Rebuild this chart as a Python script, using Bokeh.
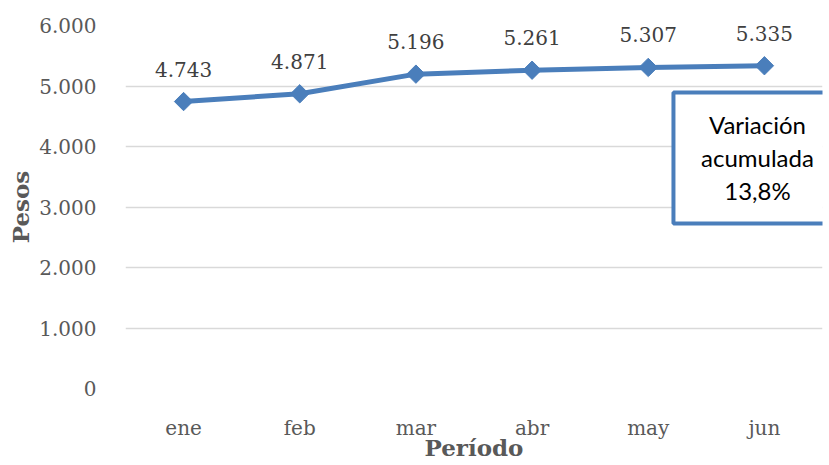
from bokeh.plotting import figure
from bokeh.models import ColumnDataSource, FactorRange, Range1d, FixedTicker, LabelSet, BoxAnnotation, Label
from bokeh.core.properties import value
from bokeh.embed import file_html
from bokeh.resources import INLINE

months = ["ene", "feb", "mar", "abr", "may", "jun"]
values = [4743, 4871, 5196, 5261, 5307, 5335]
value_labels = ["4.743", "4.871", "5.196", "5.261", "5.307", "5.335"]
y_ticks = [0, 1000, 2000, 3000, 4000, 5000, 6000]
y_tick_labels = ["0", "1.000", "2.000", "3.000", "4.000", "5.000", "6.000"]
box_lines = ["Variación", "acumulada", "13,8%"]
x_title = "Período"
y_title = "Pesos"

SERIF = "DejaVu Serif"
BLUE = "#4A7EBB"
GREY = "#595959"

src = ColumnDataSource(dict(x=months, y=values, lab=value_labels))

p = figure(width=829, height=465, output_backend="svg", toolbar_location=None,
           x_range=FactorRange(factors=months), y_range=Range1d(0, 6000),
           min_border_left=125, min_border_right=7, min_border_top=25, min_border_bottom=77)
p.outline_line_color = None
p.background_fill_color = "white"
p.border_fill_color = "white"

p.xgrid.grid_line_color = None
p.ygrid.grid_line_color = "#D9D9D9"
p.ygrid.grid_line_width = 1.5

p.yaxis.ticker = FixedTicker(ticks=y_ticks)
p.yaxis.major_label_overrides = {t: l for t, l in zip(y_ticks, y_tick_labels)}
for ax in (p.xaxis[0], p.yaxis[0]):
    ax.axis_line_color = None
    ax.major_tick_line_color = None
    ax.minor_tick_line_color = None
    ax.major_label_text_font = SERIF
    ax.major_label_text_font_size = "20px"
    ax.major_label_text_color = GREY
    ax.axis_label_text_font = SERIF
    ax.axis_label_text_font_size = "23px"
    ax.axis_label_text_font_style = "bold"
    ax.axis_label_text_color = GREY

p.xaxis.axis_label = x_title
p.yaxis.axis_label = y_title
p.xaxis.major_label_standoff = 21
p.xaxis.axis_label_standoff = -9
p.yaxis.major_label_standoff = 23
p.yaxis.axis_label_standoff = 2

p.line("x", "y", source=src, line_color=BLUE, line_width=5)
p.scatter("x", "y", source=src, marker="square", angle=0.785398, size=13,
          fill_color=BLUE, line_color=BLUE)

p.add_layout(LabelSet(x="x", y="y", text="lab", source=src, y_offset=25,
                      text_align="center", text_baseline="alphabetic",
                      text_font=value(SERIF), text_font_size=value("20px"),
                      text_color=value("#404040")))

box = BoxAnnotation(left=4.717, right=6.4, bottom=2727, top=4893,
                    fill_color="white", fill_alpha=1.0,
                    line_color=BLUE, line_alpha=1.0, line_width=4, level="annotation")
p.add_layout(box)
for t, yv in zip(box_lines, [4364, 3818, 3273]):
    p.add_layout(Label(x=5.44, y=yv, text=t, text_align="center", text_baseline="middle",
                       text_font="Lato", text_font_size="24px", text_color="black"))

open("out.html", "w").write(file_html(p, INLINE))
